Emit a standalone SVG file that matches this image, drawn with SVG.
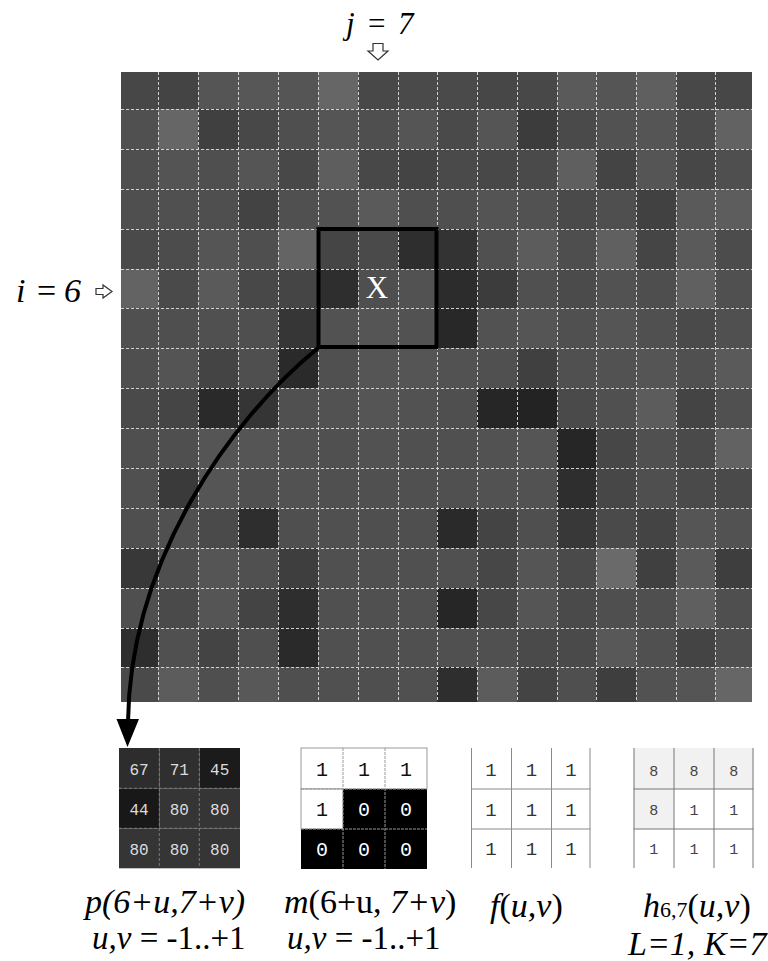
<svg xmlns="http://www.w3.org/2000/svg" width="768" height="961" viewBox="0 0 768 961">
<style>
.gl{stroke:#d2d2d2;stroke-width:1;stroke-dasharray:3 2;fill:none}
.lbl{font-family:"Liberation Serif","Times New Roman",serif;font-size:34px;fill:#000}
.it{font-style:italic}
.mono{font-family:"Liberation Mono","DejaVu Sans Mono",monospace;text-anchor:middle}
.pt{font-size:16px;fill:#dcdcdc}
.mt{font-size:20px}
.ft{font-size:19px;fill:#333}
.ht{font-size:15px;fill:#444}
.harrow{fill:#fff;stroke:#333;stroke-width:1.2;stroke-linejoin:miter}
</style>
<rect width="768" height="961" fill="#fff"/>
<g id="image">
<g transform="translate(0,72)">
<rect x="121" width="37" height="37" fill="#474747"/><rect x="158" width="40" height="37" fill="#444444"/><rect x="198" width="40" height="37" fill="#555555"/><rect x="238" width="40" height="37" fill="#575757"/><rect x="278" width="40" height="37" fill="#555555"/><rect x="318" width="40" height="37" fill="#666666"/><rect x="358" width="40" height="37" fill="#484848"/><rect x="398" width="39" height="37" fill="#4a4a4a"/><rect x="437" width="40" height="37" fill="#4a4a4a"/><rect x="477" width="40" height="37" fill="#474747"/><rect x="517" width="40" height="37" fill="#484848"/><rect x="557" width="39" height="37" fill="#5a5a5a"/><rect x="596" width="40" height="37" fill="#555555"/><rect x="636" width="40" height="37" fill="#5f5f5f"/><rect x="676" width="39" height="37" fill="#484848"/><rect x="715" width="37" height="37" fill="#474747"/>
</g>
<g transform="translate(0,109)">
<rect x="121" width="37" height="40" fill="#505050"/><rect x="158" width="40" height="40" fill="#666666"/><rect x="198" width="40" height="40" fill="#404040"/><rect x="238" width="40" height="40" fill="#484848"/><rect x="278" width="40" height="40" fill="#4f4f4f"/><rect x="318" width="40" height="40" fill="#555555"/><rect x="358" width="40" height="40" fill="#4f4f4f"/><rect x="398" width="39" height="40" fill="#555555"/><rect x="437" width="40" height="40" fill="#4a4a4a"/><rect x="477" width="40" height="40" fill="#555555"/><rect x="517" width="40" height="40" fill="#3c3c3c"/><rect x="557" width="39" height="40" fill="#4a4a4a"/><rect x="596" width="40" height="40" fill="#525252"/><rect x="636" width="40" height="40" fill="#555555"/><rect x="676" width="39" height="40" fill="#4b4b4b"/><rect x="715" width="37" height="40" fill="#626262"/>
</g>
<g transform="translate(0,149)">
<rect x="121" width="37" height="40" fill="#4f4f4f"/><rect x="158" width="40" height="40" fill="#545454"/><rect x="198" width="40" height="40" fill="#4f4f4f"/><rect x="238" width="40" height="40" fill="#555555"/><rect x="278" width="40" height="40" fill="#484848"/><rect x="318" width="40" height="40" fill="#5e5e5e"/><rect x="358" width="40" height="40" fill="#484848"/><rect x="398" width="39" height="40" fill="#444444"/><rect x="437" width="40" height="40" fill="#4a4a4a"/><rect x="477" width="40" height="40" fill="#484848"/><rect x="517" width="40" height="40" fill="#4a4a4a"/><rect x="557" width="39" height="40" fill="#5f5f5f"/><rect x="596" width="40" height="40" fill="#444444"/><rect x="636" width="40" height="40" fill="#555555"/><rect x="676" width="39" height="40" fill="#474747"/><rect x="715" width="37" height="40" fill="#4f4f4f"/>
</g>
<g transform="translate(0,189)">
<rect x="121" width="37" height="40" fill="#4f4f4f"/><rect x="158" width="40" height="40" fill="#505050"/><rect x="198" width="40" height="40" fill="#4f4f4f"/><rect x="238" width="40" height="40" fill="#434343"/><rect x="278" width="40" height="40" fill="#505050"/><rect x="318" width="40" height="40" fill="#525252"/><rect x="358" width="40" height="40" fill="#5a5a5a"/><rect x="398" width="39" height="40" fill="#4f4f4f"/><rect x="437" width="40" height="40" fill="#4f4f4f"/><rect x="477" width="40" height="40" fill="#545454"/><rect x="517" width="40" height="40" fill="#525252"/><rect x="557" width="39" height="40" fill="#4a4a4a"/><rect x="596" width="40" height="40" fill="#4f4f4f"/><rect x="636" width="40" height="40" fill="#414141"/><rect x="676" width="39" height="40" fill="#5a5a5a"/><rect x="715" width="37" height="40" fill="#5d5d5d"/>
</g>
<g transform="translate(0,229)">
<rect x="121" width="37" height="40" fill="#4a4a4a"/><rect x="158" width="40" height="40" fill="#4c4c4c"/><rect x="198" width="40" height="40" fill="#555555"/><rect x="238" width="40" height="40" fill="#4f4f4f"/><rect x="278" width="40" height="40" fill="#646464"/><rect x="318" width="40" height="40" fill="#454545"/><rect x="358" width="40" height="40" fill="#4a4a4a"/><rect x="398" width="39" height="40" fill="#2e2e2e"/><rect x="437" width="40" height="40" fill="#333333"/><rect x="477" width="40" height="40" fill="#505050"/><rect x="517" width="40" height="40" fill="#5c5c5c"/><rect x="557" width="39" height="40" fill="#4e4e4e"/><rect x="596" width="40" height="40" fill="#606060"/><rect x="636" width="40" height="40" fill="#454545"/><rect x="676" width="39" height="40" fill="#5a5a5a"/><rect x="715" width="37" height="40" fill="#4c4c4c"/>
</g>
<g transform="translate(0,269)">
<rect x="121" width="37" height="39" fill="#636363"/><rect x="158" width="40" height="39" fill="#4a4a4a"/><rect x="198" width="40" height="39" fill="#5a5a5a"/><rect x="238" width="40" height="39" fill="#484848"/><rect x="278" width="40" height="39" fill="#454545"/><rect x="318" width="40" height="39" fill="#2e2e2e"/><rect x="358" width="40" height="39" fill="#4f4f4f"/><rect x="398" width="39" height="39" fill="#525252"/><rect x="437" width="40" height="39" fill="#2c2c2c"/><rect x="477" width="40" height="39" fill="#3c3c3c"/><rect x="517" width="40" height="39" fill="#505050"/><rect x="557" width="39" height="39" fill="#4b4b4b"/><rect x="596" width="40" height="39" fill="#525252"/><rect x="636" width="40" height="39" fill="#4e4e4e"/><rect x="676" width="39" height="39" fill="#606060"/><rect x="715" width="37" height="39" fill="#505050"/>
</g>
<g transform="translate(0,308)">
<rect x="121" width="37" height="40" fill="#505050"/><rect x="158" width="40" height="40" fill="#4f4f4f"/><rect x="198" width="40" height="40" fill="#505050"/><rect x="238" width="40" height="40" fill="#4f4f4f"/><rect x="278" width="40" height="40" fill="#363636"/><rect x="318" width="40" height="40" fill="#525252"/><rect x="358" width="40" height="40" fill="#555555"/><rect x="398" width="39" height="40" fill="#525252"/><rect x="437" width="40" height="40" fill="#282828"/><rect x="477" width="40" height="40" fill="#525252"/><rect x="517" width="40" height="40" fill="#555555"/><rect x="557" width="39" height="40" fill="#505050"/><rect x="596" width="40" height="40" fill="#555555"/><rect x="636" width="40" height="40" fill="#505050"/><rect x="676" width="39" height="40" fill="#4a4a4a"/><rect x="715" width="37" height="40" fill="#505050"/>
</g>
<g transform="translate(0,348)">
<rect x="121" width="37" height="40" fill="#4f4f4f"/><rect x="158" width="40" height="40" fill="#545454"/><rect x="198" width="40" height="40" fill="#444444"/><rect x="238" width="40" height="40" fill="#4f4f4f"/><rect x="278" width="40" height="40" fill="#2a2a2a"/><rect x="318" width="40" height="40" fill="#505050"/><rect x="358" width="40" height="40" fill="#555555"/><rect x="398" width="39" height="40" fill="#555555"/><rect x="437" width="40" height="40" fill="#525252"/><rect x="477" width="40" height="40" fill="#505050"/><rect x="517" width="40" height="40" fill="#404040"/><rect x="557" width="39" height="40" fill="#505050"/><rect x="596" width="40" height="40" fill="#525252"/><rect x="636" width="40" height="40" fill="#555555"/><rect x="676" width="39" height="40" fill="#505050"/><rect x="715" width="37" height="40" fill="#5a5a5a"/>
</g>
<g transform="translate(0,388)">
<rect x="121" width="37" height="40" fill="#4a4a4a"/><rect x="158" width="40" height="40" fill="#454545"/><rect x="198" width="40" height="40" fill="#2a2a2a"/><rect x="238" width="40" height="40" fill="#353535"/><rect x="278" width="40" height="40" fill="#505050"/><rect x="318" width="40" height="40" fill="#525252"/><rect x="358" width="40" height="40" fill="#555555"/><rect x="398" width="39" height="40" fill="#525252"/><rect x="437" width="40" height="40" fill="#4f4f4f"/><rect x="477" width="40" height="40" fill="#262626"/><rect x="517" width="40" height="40" fill="#232323"/><rect x="557" width="39" height="40" fill="#4a4a4a"/><rect x="596" width="40" height="40" fill="#505050"/><rect x="636" width="40" height="40" fill="#5c5c5c"/><rect x="676" width="39" height="40" fill="#444444"/><rect x="715" width="37" height="40" fill="#505050"/>
</g>
<g transform="translate(0,428)">
<rect x="121" width="37" height="40" fill="#4f4f4f"/><rect x="158" width="40" height="40" fill="#4f4f4f"/><rect x="198" width="40" height="40" fill="#555555"/><rect x="238" width="40" height="40" fill="#555555"/><rect x="278" width="40" height="40" fill="#525252"/><rect x="318" width="40" height="40" fill="#505050"/><rect x="358" width="40" height="40" fill="#525252"/><rect x="398" width="39" height="40" fill="#505050"/><rect x="437" width="40" height="40" fill="#505050"/><rect x="477" width="40" height="40" fill="#525252"/><rect x="517" width="40" height="40" fill="#555555"/><rect x="557" width="39" height="40" fill="#262626"/><rect x="596" width="40" height="40" fill="#474747"/><rect x="636" width="40" height="40" fill="#505050"/><rect x="676" width="39" height="40" fill="#4a4a4a"/><rect x="715" width="37" height="40" fill="#626262"/>
</g>
<g transform="translate(0,468)">
<rect x="121" width="37" height="40" fill="#505050"/><rect x="158" width="40" height="40" fill="#3a3a3a"/><rect x="198" width="40" height="40" fill="#555555"/><rect x="238" width="40" height="40" fill="#505050"/><rect x="278" width="40" height="40" fill="#525252"/><rect x="318" width="40" height="40" fill="#505050"/><rect x="358" width="40" height="40" fill="#505050"/><rect x="398" width="39" height="40" fill="#505050"/><rect x="437" width="40" height="40" fill="#505050"/><rect x="477" width="40" height="40" fill="#525252"/><rect x="517" width="40" height="40" fill="#525252"/><rect x="557" width="39" height="40" fill="#2e2e2e"/><rect x="596" width="40" height="40" fill="#474747"/><rect x="636" width="40" height="40" fill="#4f4f4f"/><rect x="676" width="39" height="40" fill="#4a4a4a"/><rect x="715" width="37" height="40" fill="#4a4a4a"/>
</g>
<g transform="translate(0,508)">
<rect x="121" width="37" height="40" fill="#4f4f4f"/><rect x="158" width="40" height="40" fill="#505050"/><rect x="198" width="40" height="40" fill="#4a4a4a"/><rect x="238" width="40" height="40" fill="#2e2e2e"/><rect x="278" width="40" height="40" fill="#4f4f4f"/><rect x="318" width="40" height="40" fill="#505050"/><rect x="358" width="40" height="40" fill="#4f4f4f"/><rect x="398" width="39" height="40" fill="#4f4f4f"/><rect x="437" width="40" height="40" fill="#2a2a2a"/><rect x="477" width="40" height="40" fill="#444444"/><rect x="517" width="40" height="40" fill="#4f4f4f"/><rect x="557" width="39" height="40" fill="#383838"/><rect x="596" width="40" height="40" fill="#4a4a4a"/><rect x="636" width="40" height="40" fill="#444444"/><rect x="676" width="39" height="40" fill="#555555"/><rect x="715" width="37" height="40" fill="#525252"/>
</g>
<g transform="translate(0,548)">
<rect x="121" width="37" height="40" fill="#383838"/><rect x="158" width="40" height="40" fill="#4f4f4f"/><rect x="198" width="40" height="40" fill="#555555"/><rect x="238" width="40" height="40" fill="#505050"/><rect x="278" width="40" height="40" fill="#3e3e3e"/><rect x="318" width="40" height="40" fill="#505050"/><rect x="358" width="40" height="40" fill="#505050"/><rect x="398" width="39" height="40" fill="#505050"/><rect x="437" width="40" height="40" fill="#505050"/><rect x="477" width="40" height="40" fill="#474747"/><rect x="517" width="40" height="40" fill="#555555"/><rect x="557" width="39" height="40" fill="#4a4a4a"/><rect x="596" width="40" height="40" fill="#6a6a6a"/><rect x="636" width="40" height="40" fill="#404040"/><rect x="676" width="39" height="40" fill="#5a5a5a"/><rect x="715" width="37" height="40" fill="#3e3e3e"/>
</g>
<g transform="translate(0,588)">
<rect x="121" width="37" height="40" fill="#4f4f4f"/><rect x="158" width="40" height="40" fill="#4a4a4a"/><rect x="198" width="40" height="40" fill="#555555"/><rect x="238" width="40" height="40" fill="#444444"/><rect x="278" width="40" height="40" fill="#2e2e2e"/><rect x="318" width="40" height="40" fill="#505050"/><rect x="358" width="40" height="40" fill="#505050"/><rect x="398" width="39" height="40" fill="#505050"/><rect x="437" width="40" height="40" fill="#262626"/><rect x="477" width="40" height="40" fill="#474747"/><rect x="517" width="40" height="40" fill="#555555"/><rect x="557" width="39" height="40" fill="#4a4a4a"/><rect x="596" width="40" height="40" fill="#4f4f4f"/><rect x="636" width="40" height="40" fill="#4f4f4f"/><rect x="676" width="39" height="40" fill="#5f5f5f"/><rect x="715" width="37" height="40" fill="#4f4f4f"/>
</g>
<g transform="translate(0,628)">
<rect x="121" width="37" height="39" fill="#2e2e2e"/><rect x="158" width="40" height="39" fill="#505050"/><rect x="198" width="40" height="39" fill="#444444"/><rect x="238" width="40" height="39" fill="#4f4f4f"/><rect x="278" width="40" height="39" fill="#2a2a2a"/><rect x="318" width="40" height="39" fill="#505050"/><rect x="358" width="40" height="39" fill="#505050"/><rect x="398" width="39" height="39" fill="#505050"/><rect x="437" width="40" height="39" fill="#505050"/><rect x="477" width="40" height="39" fill="#505050"/><rect x="517" width="40" height="39" fill="#4a4a4a"/><rect x="557" width="39" height="39" fill="#4a4a4a"/><rect x="596" width="40" height="39" fill="#585858"/><rect x="636" width="40" height="39" fill="#505050"/><rect x="676" width="39" height="39" fill="#444444"/><rect x="715" width="37" height="39" fill="#4f4f4f"/>
</g>
<g transform="translate(0,667)">
<rect x="121" width="37" height="35" fill="#4a4a4a"/><rect x="158" width="40" height="35" fill="#5c5c5c"/><rect x="198" width="40" height="35" fill="#4f4f4f"/><rect x="238" width="40" height="35" fill="#585858"/><rect x="278" width="40" height="35" fill="#4f4f4f"/><rect x="318" width="40" height="35" fill="#505050"/><rect x="358" width="40" height="35" fill="#4f4f4f"/><rect x="398" width="39" height="35" fill="#505050"/><rect x="437" width="40" height="35" fill="#2e2e2e"/><rect x="477" width="40" height="35" fill="#5c5c5c"/><rect x="517" width="40" height="35" fill="#444444"/><rect x="557" width="39" height="35" fill="#4f4f4f"/><rect x="596" width="40" height="35" fill="#3e3e3e"/><rect x="636" width="40" height="35" fill="#525252"/><rect x="676" width="39" height="35" fill="#555555"/><rect x="715" width="37" height="35" fill="#666666"/>
</g>
<g class="gl">
<path d="M158.5 72V702M198.5 72V702M238.5 72V702M278.5 72V702M318.5 72V702M358.5 72V702M398.5 72V702M437.5 72V702M477.5 72V702M517.5 72V702M557.5 72V702M596.5 72V702M636.5 72V702M676.5 72V702M715.5 72V702"/>
<path d="M121 109.5H752M121 149.5H752M121 189.5H752M121 229.5H752M121 269.5H752M121 308.5H752M121 348.5H752M121 388.5H752M121 428.5H752M121 468.5H752M121 508.5H752M121 548.5H752M121 588.5H752M121 628.5H752M121 667.5H752"/>
</g>
</g>
<g id="window">
<rect x="318.5" y="229" width="118" height="118" fill="none" stroke="#000" stroke-width="4"/>
<text x="377" y="298" class="lbl" style="font-size:31px;fill:#fff" text-anchor="middle">X</text>
</g>
<g id="label-j">
<text class="lbl" style="font-size:31px" y="34"><tspan class="it" x="346">j</tspan><tspan x="368">=</tspan><tspan class="it" x="398">7</tspan></text>
<polygon class="harrow" points="373,43.5 383,43.5 383,51 388,51 378,60 368,51 373,51"/>
</g>
<g id="label-i">
<text class="lbl" y="302"><tspan class="it" x="16">i</tspan><tspan x="37">=</tspan><tspan class="it" x="64">6</tspan></text>
<polygon class="harrow" points="96,288.5 103,288.5 103,285 112,291.5 103,298 103,294.5 96,294.5"/>
</g>
<g id="connectors">
<path d="M318,348 C230,420 130,560 128,722" fill="none" stroke="#000" stroke-width="4"/>
<polygon points="116.5,719 139,719 127.5,747" fill="#000"/>
</g>
<g id="table-p">
<rect x="119" y="748" width="40.3" height="40.3" fill="#2d2d2d"/>
<rect x="159.3" y="748" width="40" height="40.3" fill="#2f2f2f"/>
<rect x="199.3" y="748" width="40.7" height="40.3" fill="#1b1b1b"/>
<rect x="119" y="788.3" width="40.3" height="40" fill="#181818"/>
<rect x="159.3" y="788.3" width="80.7" height="40" fill="#353535"/>
<rect x="119" y="828.3" width="121" height="40" fill="#353535"/>
<path d="M159.3 748V868.3M199.3 748V868.3M119 788.3H240M119 828.3H240" stroke="#7a7a7a" stroke-width="1" stroke-dasharray="3 2" fill="none"/>
<g class="mono pt">
<text x="139" y="775">67</text><text x="179.3" y="775">71</text><text x="219.7" y="775">45</text>
<text x="139" y="815">44</text><text x="179.3" y="815">80</text><text x="219.7" y="815">80</text>
<text x="139" y="855">80</text><text x="179.3" y="855">80</text><text x="219.7" y="855">80</text>
</g>
</g>
<g id="table-m">
<rect x="301" y="748" width="126" height="41" fill="#fff" stroke="#999" stroke-width="1"/>
<rect x="301" y="789" width="42" height="40" fill="#fff" stroke="#999" stroke-width="1"/>
<rect x="343" y="789" width="84" height="40" fill="#000"/>
<rect x="301" y="829" width="126" height="40" fill="#000"/>
<path d="M343 748V869M385 748V869M301 789H427M301 829H427" stroke="#999" stroke-width="1" stroke-dasharray="3 1" fill="none"/>
<g class="mono mt">
<text x="322" y="776" fill="#111">1</text><text x="364" y="776" fill="#111">1</text><text x="406" y="776" fill="#111">1</text>
<text x="322" y="816" fill="#111">1</text><text x="364" y="816" fill="#fff">0</text><text x="406" y="816" fill="#fff">0</text>
<text x="322" y="856" fill="#fff">0</text><text x="364" y="856" fill="#fff">0</text><text x="406" y="856" fill="#fff">0</text>
</g>
</g>
<g id="table-f">
<rect x="471" y="748" width="119.5" height="120" fill="#fff"/>
<path d="M511.5 748V868M551.5 748V868M471 789H590.5M471 829H590.5M471.5 748V868M590 748V868" stroke="#8a8a8a" stroke-width="1" fill="none"/>
<g class="mono ft">
<text x="491" y="776">1</text><text x="531.5" y="776">1</text><text x="571" y="776">1</text>
<text x="491" y="816">1</text><text x="531.5" y="816">1</text><text x="571" y="816">1</text>
<text x="491" y="855">1</text><text x="531.5" y="855">1</text><text x="571" y="855">1</text>
</g>
</g>
<g id="table-h">
<rect x="633.5" y="748" width="120" height="120" fill="#fff"/>
<rect x="633.5" y="748" width="120" height="41" fill="#f1f1f1"/>
<rect x="633.5" y="789" width="40.5" height="40" fill="#f1f1f1"/>
<path d="M674 748V868M714 748V868M633.5 789H753.5M633.5 829H753.5M634 748V868M753 748V868" stroke="#777" stroke-width="1" fill="none"/>
<g class="mono ht">
<text x="653.7" y="776">8</text><text x="694" y="776">8</text><text x="733.7" y="776">8</text>
<text x="653.7" y="815">8</text><text x="694" y="815">1</text><text x="733.7" y="815">1</text>
<text x="653.7" y="854">1</text><text x="694" y="854">1</text><text x="733.7" y="854">1</text>
</g>
</g>
<g id="label-p">
<text class="lbl it" x="85" y="913">p(6+u,7+v)</text>
<text class="lbl" x="92" y="949" style="font-size:33px"><tspan class="it">u,v</tspan> = -1..+1</text>
</g>
<g id="label-m">
<text class="lbl" x="284" y="913"><tspan class="it">m</tspan>(6+u, <tspan class="it">7+v</tspan>)</text>
<text class="lbl" x="287" y="949" style="font-size:33px"><tspan class="it">u,v</tspan> = -1..+1</text>
</g>
<g id="label-f">
<text class="lbl" x="490" y="917"><tspan class="it">f</tspan>(<tspan class="it">u,v</tspan>)</text>
</g>
<g id="label-h">
<text class="lbl" x="643" y="917"><tspan class="it">h</tspan><tspan style="font-size:22px">6,7</tspan>(<tspan class="it">u,v</tspan>)</text>
<text class="lbl it" x="628" y="955">L=1, K=7</text>
</g>
</svg>
